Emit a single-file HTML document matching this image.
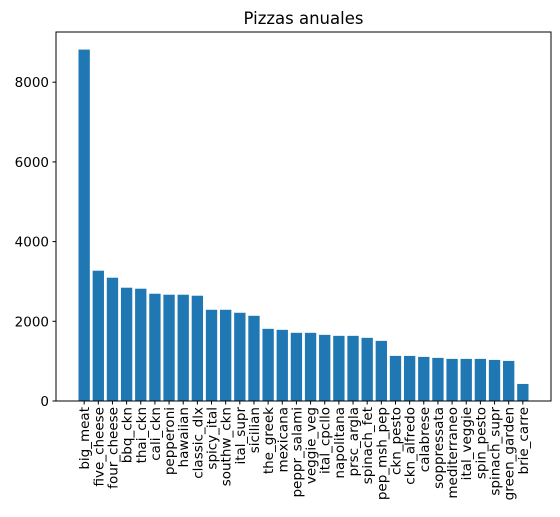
<!DOCTYPE html>
<html><head><meta charset="utf-8"><style>
body{margin:0;background:#fff;}
svg{display:block;font-family:"DejaVu Sans","Liberation Sans",sans-serif;}
</style></head><body>
<svg id="chart" width="560" height="517" xmlns="http://www.w3.org/2000/svg">
<rect width="560" height="517" fill="#fff"/>
<text x="303.5" y="24" text-anchor="middle" font-size="16.5">Pizzas anuales</text>
<g id="bars"></g><g id="xt"></g><g id="yt"></g>
<rect x="56" y="32" width="495" height="369" fill="none" stroke="#000" stroke-width="1"/>
</svg>
<script>
const categories=["big_meat","five_cheese","four_cheese","bbq_ckn","thai_ckn","cali_ckn","pepperoni","hawaiian","classic_dlx","spicy_ital","southw_ckn","ital_supr","sicilian","the_greek","mexicana","peppr_salami","veggie_veg","ital_cpcllo","napolitana","prsc_argla","spinach_fet","pep_msh_pep","ckn_pesto","ckn_alfredo","calabrese","soppressata","mediterraneo","ital_veggie","spin_pesto","spinach_supr","green_garden","brie_carre"];
const values=[8819,3270,3094,2843,2818,2692,2667,2667,2642,2289,2289,2214,2138,1811,1786,1711,1711,1660,1635,1635,1585,1509,1132,1132,1107,1082,1057,1057,1057,1031,1006,428];
const yTicks=[0,2000,4000,6000,8000];
const NS="http://www.w3.org/2000/svg";
const L=56,R=551,T=32,B=401;
const xmin=-1.99,xmax=categories.length-1+1.99;
const ymax=Math.max(...values)*1.05;
const xs=v=>L+(v-xmin)/(xmax-xmin)*(R-L);
const ys=v=>B-v/ymax*(B-T);
const bw=(xs(0.8)-xs(0));
const gb=document.getElementById('bars'),gx=document.getElementById('xt'),gy=document.getElementById('yt');
function mk(tag,a){const e=document.createElementNS(NS,tag);for(const k in a)e.setAttribute(k,a[k]);return e;}
categories.forEach((c,i)=>{
  const r=mk('rect',{x:xs(i)-bw/2,y:ys(values[i]),width:bw,height:B-ys(values[i]),fill:'#1f77b4'});
  
  
  gb.appendChild(r);
  const t=mk('line',{x1:xs(i),x2:xs(i),y1:B,y2:B+3.5,stroke:'#000'});
  
  
  gx.appendChild(t);
  const l=mk('text',{transform:`translate(${xs(i)+5},${B+6}) rotate(-90)`,'text-anchor':'end','font-size':'13.5'});
  l.textContent=c;
  
  
  gx.appendChild(l);
});
yTicks.forEach(v=>{
  const t=mk('line',{x1:L-3.5,x2:L,y1:ys(v),y2:ys(v),stroke:'#000'});
  
  
  gy.appendChild(t);
  const l=mk('text',{x:L-7,y:ys(v)+5,'text-anchor':'end','font-size':'13.5'});
  l.textContent=v;
  
  
  gy.appendChild(l);
});
</script>
</body></html>
